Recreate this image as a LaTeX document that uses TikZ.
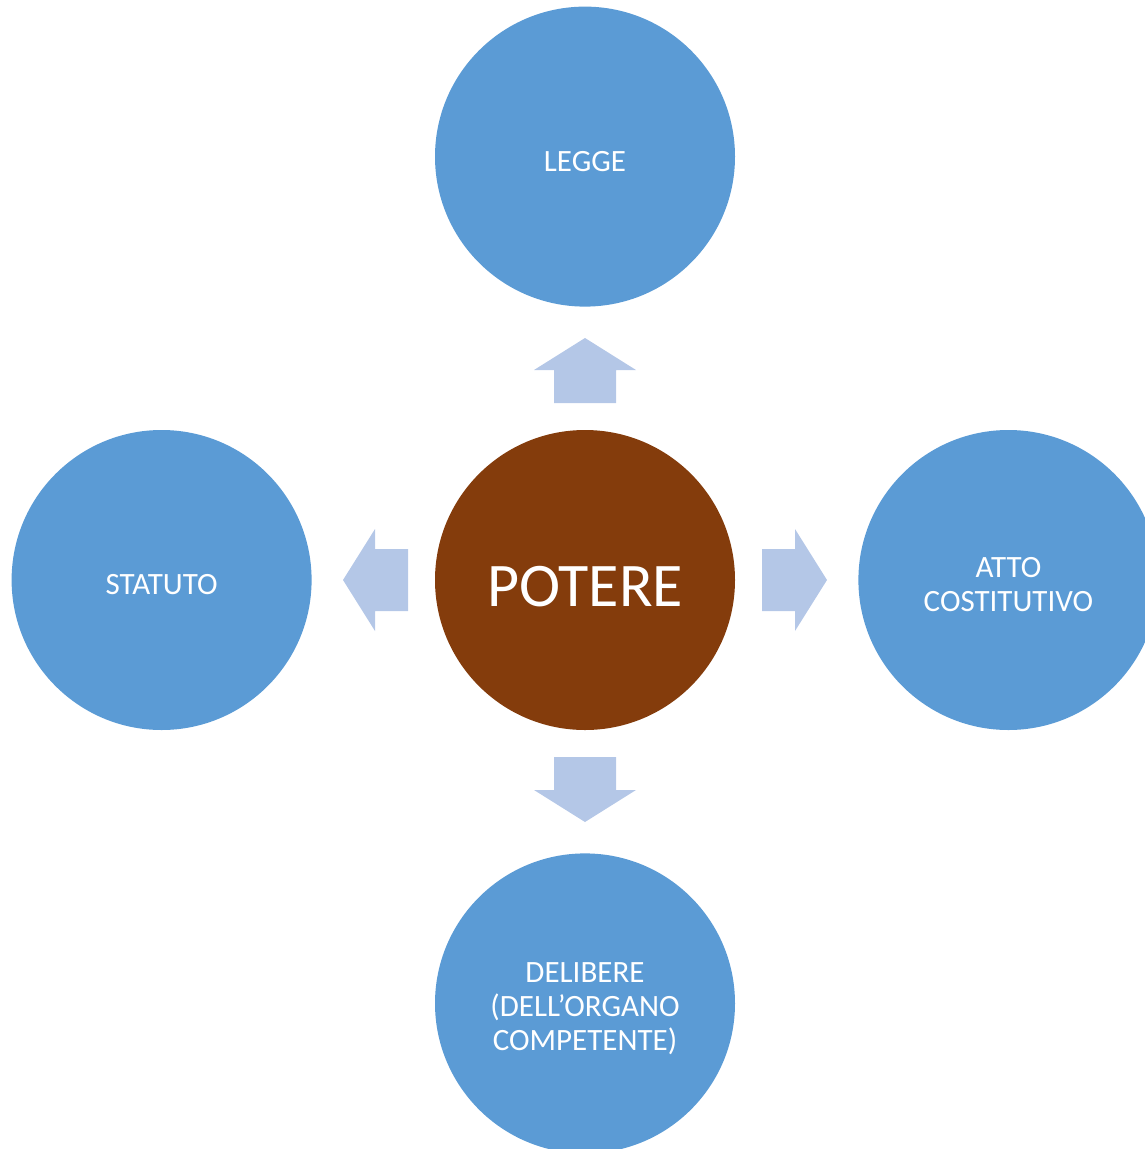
\documentclass[tikz,border=0pt]{standalone}
\usepackage{fontspec}
\setmainfont{Carlito}
\usetikzlibrary{positioning}
\definecolor{blu}{HTML}{5B9BD5}
\definecolor{marrone}{HTML}{843C0C}
\definecolor{celeste}{HTML}{B4C7E7}
\tikzset{
  cerchio/.style={circle,fill=blu,minimum size=300pt,inner sep=0pt},
  testo/.style={text=white,align=center,yshift=-5pt,font=\fontsize{31}{34}\selectfont},
  freccia/.style={fill=celeste}
}
\begin{document}
\begin{tikzpicture}[x=1pt,y=-1pt]
    \useasboundingbox (0,0) rectangle (1144,1149);
    \node[cerchio,fill=marrone,label={[testo,yshift=-2pt,font=\fontsize{62}{70}\selectfont]center:POTERE}] (potere) at (585,580) {};
    \node[cerchio,above=123pt of potere,label={[testo]center:LEGGE}] (legge) {};
    \node[cerchio,right=123pt of potere,label={[testo]center:ATTO\\COSTITUTIVO}] (atto) {};
    \node[cerchio,left=123pt of potere,label={[testo]center:STATUTO}] (statuto) {};
    \node[cerchio,below=123pt of potere,label={[testo]center:DELIBERE\\(DELL’ORGANO\\COMPETENTE)}] (delibere) {};
    \foreach \ang in {0,90,180,270} {
      \fill[freccia,shift={(potere.center)},rotate=\ang] (177,-31) -- (210,-31) -- (210,-51) -- (242,0) -- (210,51) -- (210,31) -- (177,31) -- cycle;
    }
  \end{tikzpicture}
\end{document}
